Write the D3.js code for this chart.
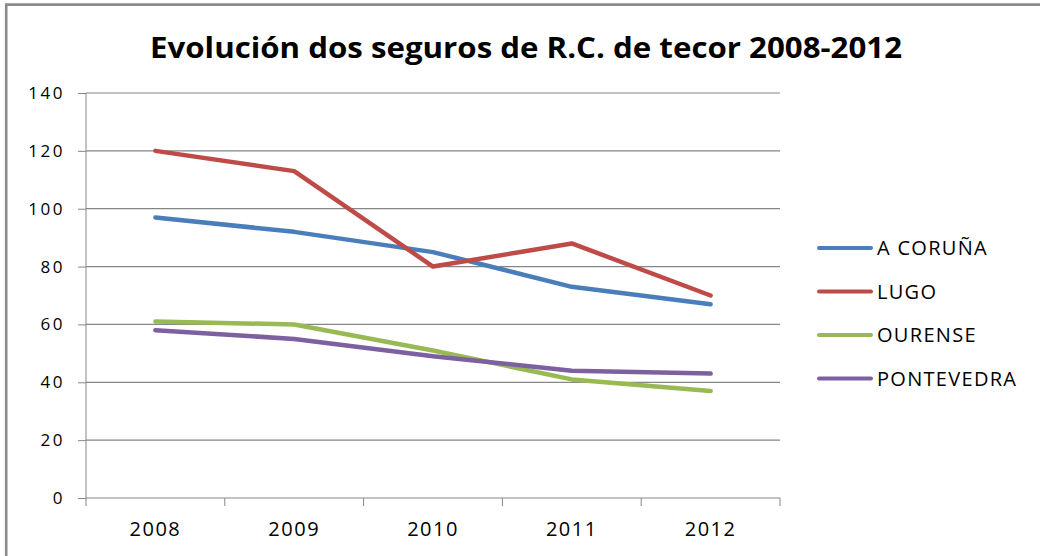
<!DOCTYPE html>
<html>
<head>
<meta charset="utf-8">
<script src="https://cdn.jsdelivr.net/npm/d3@7"></script>
<style>
  body { margin: 0; background: #fff; }
  svg text { font-family: "Open Sans", "DejaVu Sans", sans-serif; fill: #000; }
</style>
</head>
<body>
<div id="chart"></div>
<script>
// chart values
var years = ["2008", "2009", "2010", "2011", "2012"];
var seriesNames = ["A CORUÑA", "LUGO", "OURENSE", "PONTEVEDRA"];
var seriesColors = ["#4a7ebb", "#be4b48", "#98b954", "#7d60a0"];
var coruna = [97, 92, 85, 73, 67];
var lugo = [120, 113, 80, 88, 70];
var ourense = [61, 60, 51, 41, 37];
var pontevedra = [58, 55, 49, 44, 43];
var yTicks = [0, 20, 40, 60, 80, 100, 120, 140];

var seriesValues = [coruna, lugo, ourense, pontevedra];

var W = 1040, H = 556;
var margin = {top: 93, left: 86, right: 260, bottom: 58};
var width = 780 - margin.left,
    height = 498 - margin.top;

var svg = d3.select("#chart").append("svg")
    .attr("width", W)
    .attr("height", H);

// outer frame: only left and top edges show
svg.append("path")
    .attr("d", "M6.2,556 L6.2,4.6 L1040,4.6")
    .attr("fill", "none")
    .attr("stroke", "#8a8a8a")
    .attr("stroke-width", 2.6);

svg.append("text")
    .attr("x", 526)
    .attr("y", 58)
    .attr("text-anchor", "middle")
    .style("font-size", "28px")
    .style("font-weight", "bold")
    .attr("textLength", 752)
    .attr("lengthAdjust", "spacingAndGlyphs")
    .text("Evolución dos seguros de R.C. de tecor 2008-2012");

var g = svg.append("g")
    .attr("transform", "translate(" + margin.left + "," + margin.top + ")");

var x = d3.scaleBand().domain(years).range([0, width]);
var y = d3.scaleLinear().domain([0, 140]).range([height, 0]);

// gridlines
g.selectAll(".grid")
    .data(yTicks.slice(1))
    .enter().append("line")
    .attr("x1", 0).attr("x2", width)
    .attr("y1", d => y(d)).attr("y2", d => y(d))
    .attr("stroke", "#868686")
    .attr("stroke-width", 1.2);

// y axis
var yAxis = g.append("g")
    .call(d3.axisLeft(y).tickValues(yTicks).tickSize(8).tickPadding(13));
yAxis.select(".domain").attr("stroke", "#868686").attr("d", "M0," + height + "V0");
yAxis.selectAll(".tick line").attr("stroke", "#868686");
yAxis.selectAll("text")
    .style("font-size", "17px")
    .style("letter-spacing", "2.5px")
    .style("font-family", "'Open Sans', sans-serif");

// x axis with ticks on band edges
var xAxis = g.append("g")
    .attr("transform", "translate(0," + height + ")")
    .call(d3.axisBottom(x).tickSize(0).tickPadding(24));
xAxis.select(".domain").attr("stroke", "#868686").attr("d", "M0,0H" + width);
xAxis.selectAll("text")
    .style("font-size", "20px")
    .style("letter-spacing", "1.5px")
    .style("font-family", "'Open Sans', sans-serif");
g.selectAll(".xtick")
    .data(years.map(d => x(d)).concat([width]))
    .enter().append("line")
    .attr("x1", d => d).attr("x2", d => d)
    .attr("y1", height).attr("y2", height + 8)
    .attr("stroke", "#868686");

// lines
var line = d3.line()
    .x((d, i) => x(years[i]) + x.bandwidth() / 2)
    .y(d => y(d));

g.selectAll(".series")
    .data(seriesValues)
    .enter().append("path")
    .attr("d", d => line(d))
    .attr("fill", "none")
    .attr("stroke", (d, i) => seriesColors[i])
    .attr("stroke-width", 4.5)
    .attr("stroke-linejoin", "round")
    .attr("stroke-linecap", "round");

// legend
var legend = svg.append("g");
var rows = legend.selectAll("g")
    .data(seriesNames)
    .enter().append("g")
    .attr("transform", (d, i) => "translate(819," + (248 + i * 43.5) + ")");
rows.append("line")
    .attr("x1", 0).attr("x2", 52)
    .attr("stroke", (d, i) => seriesColors[i])
    .attr("stroke-width", 4)
    .attr("stroke-linecap", "round");
rows.append("text")
    .attr("x", 58)
    .attr("dy", "0.36em")
    .style("font-size", "20px")
    .style("letter-spacing", "1.3px")
    .text(d => d);
</script>
</body>
</html>
